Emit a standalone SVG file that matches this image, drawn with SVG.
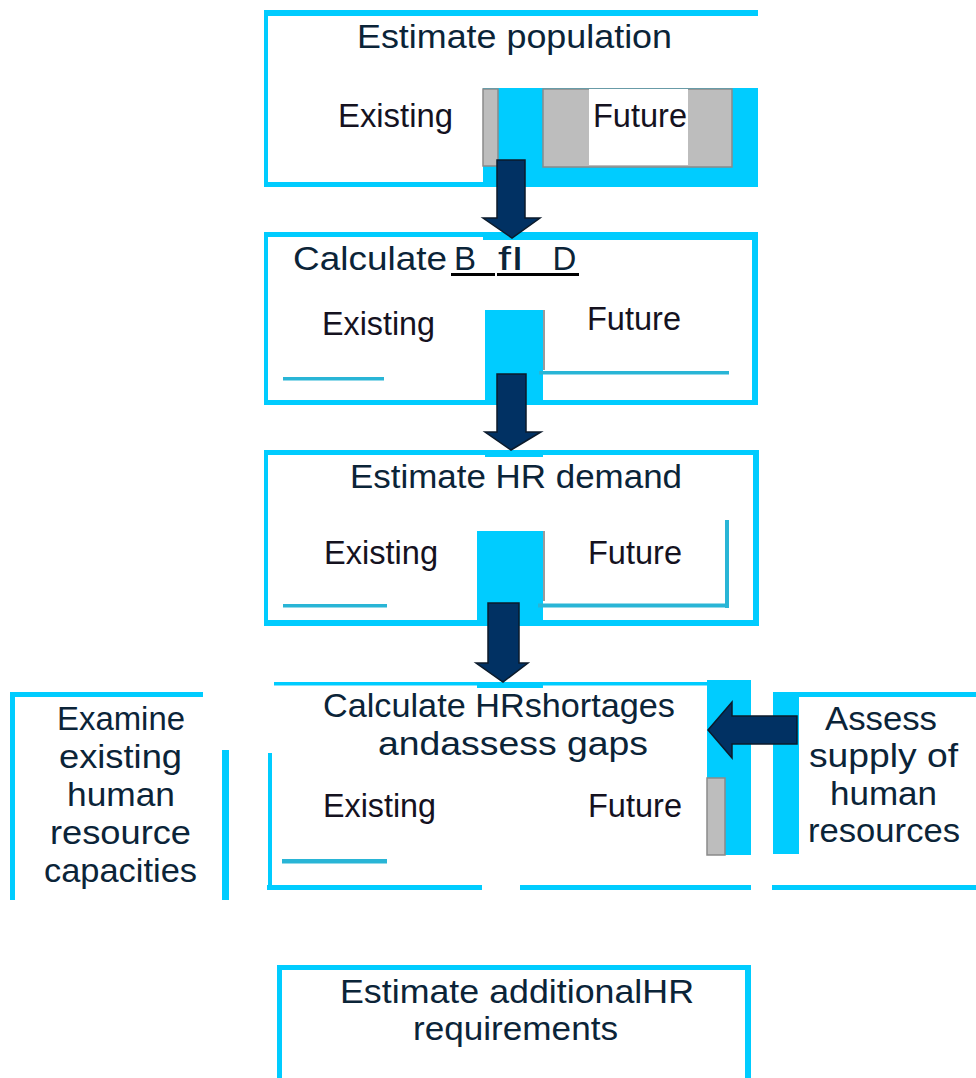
<svg xmlns="http://www.w3.org/2000/svg" width="976" height="1078" viewBox="0 0 976 1078">
<style>
.bd{fill:#00ccff}
.tl{fill:#29b5d6}
.gr{fill:#bdbdbd;stroke:#8a8a8a;stroke-width:1.5}
.sh{fill:#9a9a9a}
.t{font-family:"Liberation Sans",Arial,sans-serif;font-size:33px;fill:#0b2438;text-anchor:middle}
.s{font-family:"Liberation Sans",Arial,sans-serif;font-size:32.5px;fill:#15121f;text-anchor:middle}
.ar{fill:#013163;stroke:#0b1a2b;stroke-width:1.5;stroke-linejoin:miter}
</style>
<rect width="976" height="1078" fill="#ffffff"/>

<g id="estimate-population">
<rect class="bd" x="264" y="10" width="494" height="6"/>
<rect class="bd" x="264" y="10" width="4" height="177"/>
<rect class="bd" x="264" y="182" width="220" height="5"/>
<rect class="bd" x="483" y="88" width="275" height="99"/>
<rect class="gr" x="483" y="89" width="15" height="77"/>
<rect class="gr" x="543" y="89" width="189" height="78"/>
<rect x="589" y="89" width="99" height="76" fill="#ffffff"/>
<text class="t" x="514.5" y="48" textLength="315" lengthAdjust="spacingAndGlyphs">Estimate population</text>
<text class="s" x="395.5" y="127" textLength="115" lengthAdjust="spacingAndGlyphs">Existing</text>
<text class="s" x="640" y="127" textLength="94" lengthAdjust="spacingAndGlyphs">Future</text>
</g>

<g id="calculate-bfid">
<rect class="bd" x="264" y="232" width="494" height="5"/>
<rect class="bd" x="483" y="232" width="275" height="8"/>
<rect class="bd" x="264" y="232" width="4" height="173"/>
<rect class="bd" x="752" y="232" width="6" height="173"/>
<rect class="bd" x="264" y="400" width="494" height="5"/>
<rect class="bd" x="485" y="310" width="58" height="95"/>
<rect class="sh" x="543" y="310" width="2" height="60"/>
<rect class="tl" x="283" y="377" width="101" height="3.5"/>
<rect class="tl" x="539" y="371" width="190" height="3.5"/>
<text class="t" x="370" y="270" font-size="36" textLength="154" lengthAdjust="spacingAndGlyphs">Calculate</text>
<text class="t" x="465" y="270" font-size="36">B</text>
<text class="t" x="511" y="270" font-size="36" textLength="26" lengthAdjust="spacingAndGlyphs">fI</text>
<text class="t" x="564.5" y="270" font-size="36">D</text>
<rect x="451" y="273" width="44" height="3" fill="#000"/>
<rect x="497" y="273" width="82" height="3" fill="#000"/>
<text class="s" x="378.5" y="335" textLength="113" lengthAdjust="spacingAndGlyphs">Existing</text>
<text class="s" x="634" y="330" textLength="94" lengthAdjust="spacingAndGlyphs">Future</text>
</g>

<g id="estimate-hr-demand">
<rect class="bd" x="264" y="450" width="495" height="5"/>
<rect class="bd" x="485" y="450" width="58" height="7"/>
<rect class="bd" x="264" y="450" width="4" height="176"/>
<rect class="bd" x="753" y="450" width="6" height="176"/>
<rect class="bd" x="264" y="620" width="495" height="6"/>
<rect class="bd" x="477" y="531" width="66" height="95"/>
<rect class="sh" x="543" y="531" width="2" height="70"/>
<rect class="tl" x="283" y="604" width="104" height="3.5"/>
<rect class="tl" x="538" y="603.5" width="191" height="4"/>
<rect class="tl" x="725" y="520" width="4" height="88"/>
<text class="t" x="516" y="488" textLength="332" lengthAdjust="spacingAndGlyphs">Estimate HR demand</text>
<text class="s" x="381" y="564" textLength="114" lengthAdjust="spacingAndGlyphs">Existing</text>
<text class="s" x="635" y="564" textLength="94" lengthAdjust="spacingAndGlyphs">Future</text>
</g>

<g id="calculate-hr-shortages">
<rect class="bd" x="274" y="682" width="433" height="3.5"/>
<rect class="bd" x="477" y="682" width="66" height="6"/>
<rect class="bd" x="268" y="753" width="4" height="137"/>
<rect class="bd" x="267" y="885" width="215" height="5"/>
<rect class="bd" x="520" y="885" width="231" height="5"/>
<rect class="bd" x="707" y="680" width="44" height="175"/>
<rect class="gr" x="707" y="778" width="18" height="77"/>
<rect class="tl" x="282" y="859" width="105" height="4.5"/>
<text class="t" x="499" y="717" textLength="352" lengthAdjust="spacingAndGlyphs">Calculate HRshortages</text>
<text class="t" x="513" y="755" textLength="270" lengthAdjust="spacingAndGlyphs">andassess gaps</text>
<text class="s" x="379.5" y="817" textLength="113" lengthAdjust="spacingAndGlyphs">Existing</text>
<text class="s" x="635" y="817" textLength="94" lengthAdjust="spacingAndGlyphs">Future</text>
</g>

<g id="examine-existing">
<rect class="bd" x="10" y="692" width="193" height="5"/>
<rect class="bd" x="10" y="692" width="5" height="208"/>
<rect class="bd" x="222" y="750" width="7" height="150"/>
<text class="t" x="121" y="730" textLength="128" lengthAdjust="spacingAndGlyphs">Examine</text>
<text class="t" x="120.5" y="768" textLength="123" lengthAdjust="spacingAndGlyphs">existing</text>
<text class="t" x="121" y="806" textLength="108" lengthAdjust="spacingAndGlyphs">human</text>
<text class="t" x="120.5" y="844" textLength="141" lengthAdjust="spacingAndGlyphs">resource</text>
<text class="t" x="120.5" y="882" textLength="153" lengthAdjust="spacingAndGlyphs">capacities</text>
</g>

<g id="assess-supply">
<rect class="bd" x="773" y="692" width="26" height="162"/>
<rect class="bd" x="773" y="692" width="203" height="5"/>
<rect class="bd" x="772" y="885" width="204" height="5"/>
<text class="t" x="881" y="730" textLength="112" lengthAdjust="spacingAndGlyphs">Assess</text>
<text class="t" x="883.5" y="767" textLength="149" lengthAdjust="spacingAndGlyphs">supply of</text>
<text class="t" x="883.5" y="805" textLength="107" lengthAdjust="spacingAndGlyphs">human</text>
<text class="t" x="884" y="842" textLength="152" lengthAdjust="spacingAndGlyphs">resources</text>
</g>

<g id="estimate-additional">
<rect class="bd" x="277" y="965" width="474" height="5"/>
<rect class="bd" x="277" y="965" width="5" height="113"/>
<rect class="bd" x="745" y="965" width="6" height="113"/>
<text class="t" x="517" y="1003" textLength="354" lengthAdjust="spacingAndGlyphs">Estimate additionalHR</text>
<text class="t" x="515.5" y="1040" textLength="205" lengthAdjust="spacingAndGlyphs">requirements</text>
</g>

<g id="connectors">
<polygon class="ar" points="497,160 525,160 525,218 540,218 512,238 483,218 497,218"/>
<polygon class="ar" points="497,374 526,374 526,432 541,432 511,450 485,432 497,432"/>
<polygon class="ar" points="488,603 519,603 519,663 528,663 503,682 476,663 488,663"/>
<polygon class="ar" points="797,716 797,744 732,744 732,758 708,730 732,702 732,716"/>
</g>
</svg>
